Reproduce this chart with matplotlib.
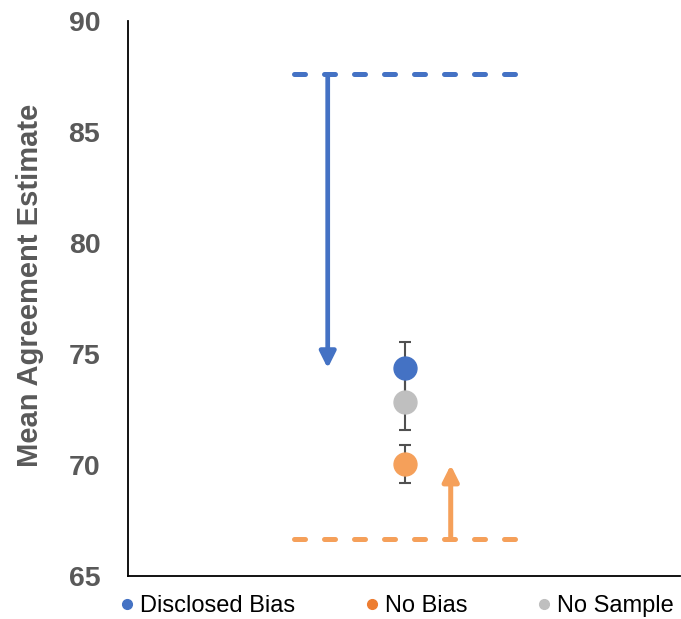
import matplotlib.pyplot as plt
from matplotlib.lines import Line2D

plt.rcParams['font.family'] = ['Liberation Sans', 'DejaVu Sans']

# data
groups = ['Disclosed Bias', 'No Bias', 'No Sample']
means = [74.36, 70.05, 72.82]
errs = [1.17, 0.86, 1.23]
mark_colors = ['#4472C4', '#F5A05A', '#BFBFBF']
legend_colors = ['#4472C4', '#ED7D31', '#BFBFBF']

# reference levels (dashed) and their arrows
blue_level = 87.6
orange_level = 66.65
line_x = [0.3, 0.71]
blue_arrow_x = 0.362
orange_arrow_x = 0.585
point_x = 0.502

fig = plt.figure(figsize=(6.81, 6.19), dpi=100)
ax = fig.add_axes([0.188, 0.0695, 0.81, 0.8965])

# dashed reference lines
ax.plot(line_x, [blue_level, blue_level], color='#4472C4', lw=3.6,
        dashes=(2.2, 3.8), dash_capstyle='round')
ax.plot(line_x, [orange_level, orange_level], color='#F5A05A', lw=3.6,
        dashes=(2.2, 3.8), dash_capstyle='round')

# arrows
ax.annotate('', xy=(blue_arrow_x, means[0]), xytext=(blue_arrow_x, blue_level),
            arrowprops=dict(arrowstyle='-|>', lw=3.4, color='#4472C4',
                            mutation_scale=24, shrinkA=0, shrinkB=0))
ax.annotate('', xy=(orange_arrow_x, 70.0), xytext=(orange_arrow_x, orange_level),
            arrowprops=dict(arrowstyle='-|>', lw=3.6, color='#F5A05A',
                            mutation_scale=24, shrinkA=0, shrinkB=0))

# points with error bars (gray first so blue sits on top)
for i in [2, 1, 0]:
    ax.errorbar(point_x, means[i], yerr=errs[i], fmt='none', ecolor='#505050',
                elinewidth=1.5, capsize=4, capthick=1.5, zorder=3)
for i in [2, 1, 0]:
    ax.plot(point_x, means[i], 'o', color=mark_colors[i], ms=16.5, zorder=4)

ax.set_xlim(0, 1)
ax.set_ylim(65, 90)
ax.set_yticks([65, 70, 75, 80, 85, 90])
ax.set_xticks([])
ax.tick_params(axis='y', length=0, pad=20, labelsize=20.5, labelcolor='#595959')
for t in ax.get_yticklabels():
    t.set_fontweight('bold')
ax.set_ylabel('Mean Agreement Estimate', fontsize=21, fontweight='bold',
              color='#595959')
ax.yaxis.set_label_coords(-0.152, 0.523)
ax.spines['top'].set_visible(False)
ax.spines['right'].set_visible(False)
ax.spines['left'].set_linewidth(1.3)
ax.spines['bottom'].set_linewidth(1.3)

handles = [Line2D([], [], marker='o', ls='', color=c, ms=7) for c in legend_colors]
fig.legend(handles, groups, loc='center', bbox_to_anchor=(0.581, 0.021), ncol=3,
           frameon=False, fontsize=17, handletextpad=0.15, columnspacing=2.85,
           handlelength=0.8, borderaxespad=0)

fig.savefig('out.png', dpi=100)
